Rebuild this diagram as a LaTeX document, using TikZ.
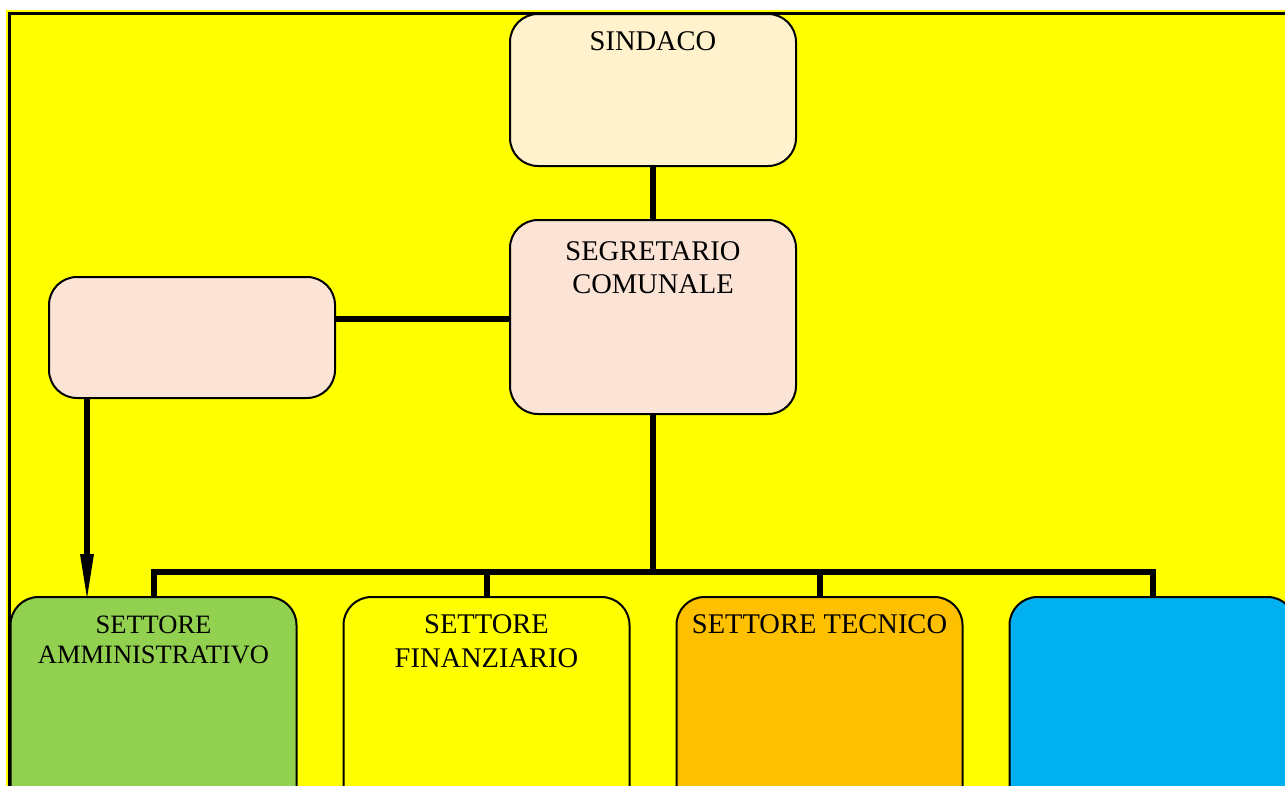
\documentclass[tikz,border=0pt]{standalone}
\usepackage{fontspec}
\setmainfont{Liberation Serif}
\usetikzlibrary{arrows.meta,calc}
\definecolor{bgyellow}{HTML}{FFFF00}
\definecolor{cream}{HTML}{FFF2CC}
\definecolor{peach}{HTML}{FBE3D6}
\definecolor{sgreen}{HTML}{92D050}
\definecolor{sorange}{HTML}{FFC000}
\definecolor{sblue}{HTML}{00B0F0}
\begin{document}
\begin{tikzpicture}[x=1pt,y=-1pt,
  box/.style={draw=black,line width=2pt,rounded corners=28pt,inner sep=0pt,minimum width=286pt},
  conn/.style={line width=6pt,line join=miter},
  lbl/.style={anchor=base,inner sep=0pt,font=\fontsize{28.5}{33}\selectfont},
  lbls/.style={anchor=base,inner sep=0pt,font=\fontsize{26.5}{30}\selectfont},
  ]
\useasboundingbox (0,0) rectangle (1285,785);
\clip (0,0) rectangle (1285,785);
\fill[bgyellow] (6,10) rectangle (1300,800);
\draw[line width=3pt] (9.5,13.5) rectangle (1300,800);

\node[box,fill=cream,minimum height=152pt] (sd) at (653,90) {};
\node[box,fill=peach,minimum height=194pt] (sg) at (653,317) {};
\node[box,fill=peach,minimum height=121pt] (lb) at (192,337.5) {};
\node[box,fill=sgreen,minimum height=233pt] (b1) at (153.5,713.5) {};
\node[box,fill=bgyellow,minimum height=233pt] (b2) at (486.5,713.5) {};
\node[box,fill=sorange,minimum height=233pt] (b3) at (819.5,713.5) {};
\node[box,fill=sblue,minimum height=233pt] (b4) at (1152.5,713.5) {};

\node[lbl] (t1) at (653,50) {SINDACO};
\node[lbl] (t2) at (653,260) {SEGRETARIO};
\node[lbl] (t3) at (653,293) {COMUNALE};
\node[lbls] (t4) at (153.5,633) {SETTORE};
\node[lbls] (t5) at (153.5,663) {AMMINISTRATIVO};
\node[lbl] (t6) at (486.5,633) {SETTORE};
\node[lbl] (t7) at (486.5,667) {FINANZIARIO};
\node[lbl] (t8) at (819.5,633) {SETTORE TECNICO};

\draw[conn] (sd.south) -- (sg.north);
\coordinate (hl) at ($(sg.west)+(0,2)$);
\draw[conn] (hl) -- (hl -| lb.east);
\coordinate (bar) at (653,572);
\draw[conn] (sg.south) -- (bar);
\draw[conn] (b1.north) |- (b4.north |- bar) -- (b4.north);
\draw[conn] (b2.north) -- (b2.north |- bar);
\draw[conn] (b3.north) -- (b3.north |- bar);
\coordinate (ar) at ($(lb.south west)+(39,0)$);
\coordinate (ae) at ($(ar |- b1.north)+(0,8)$);
\draw[conn,-{Triangle[length=50pt,width=12pt]}] (ar) -- (ae);
\end{tikzpicture}
\end{document}
